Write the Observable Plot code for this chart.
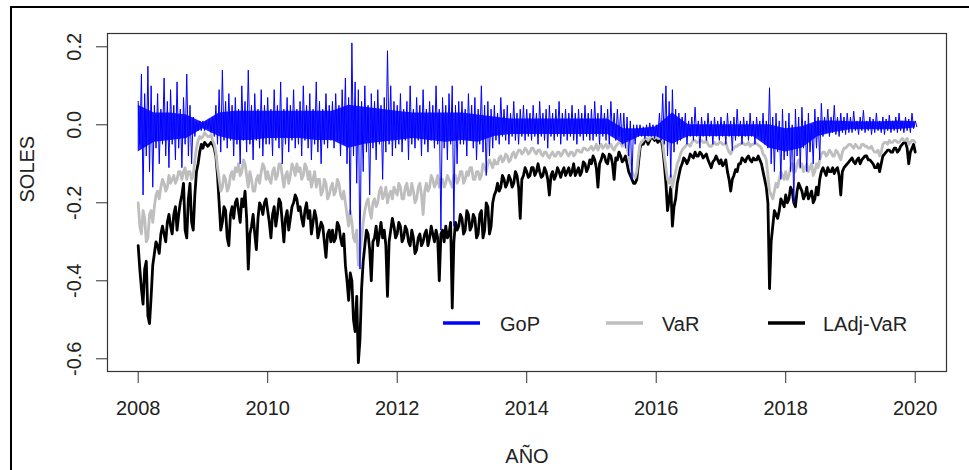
<!DOCTYPE html>
<html><head><meta charset="utf-8">
<script src="https://cdn.jsdelivr.net/npm/d3@7"></script>
<script src="https://cdn.jsdelivr.net/npm/@observablehq/plot@0.6"></script>
<style>
html,body{margin:0;padding:0;background:#fff;}
#chart{position:relative;width:969px;height:470px;overflow:hidden;}
</style></head><body><div id="chart"></div>
<script>
// time grid: first observation and spacing (years)
const start = 2008, step = 0.05;

// LAdj-VaR (black): readings at start + i*step (one row per year)
const ladjVaR = [
 -0.31,-0.42,-0.37,-0.49,-0.44,-0.33,-0.31,-0.28,-0.28,-0.25,-0.26,-0.23,-0.27,-0.20,-0.15,-0.29,-0.15,-0.27,-0.12,-0.07,
 -0.06,-0.05,-0.05,-0.05,-0.08,-0.20,-0.25,-0.22,-0.31,-0.21,-0.20,-0.22,-0.19,-0.17,-0.37,-0.26,-0.28,-0.24,-0.21,-0.20,
 -0.22,-0.29,-0.21,-0.23,-0.20,-0.30,-0.22,-0.24,-0.20,-0.19,-0.21,-0.26,-0.20,-0.22,-0.25,-0.24,-0.27,-0.26,-0.34,-0.27,
 -0.27,-0.29,-0.26,-0.31,-0.36,-0.45,-0.40,-0.53,-0.61,-0.42,-0.31,-0.28,-0.40,-0.29,-0.31,-0.25,-0.27,-0.44,-0.27,-0.26,
 -0.28,-0.26,-0.29,-0.27,-0.31,-0.29,-0.32,-0.28,-0.30,-0.27,-0.29,-0.28,-0.27,-0.40,-0.27,-0.26,-0.28,-0.47,-0.25,-0.26,
 -0.24,-0.27,-0.23,-0.26,-0.24,-0.28,-0.22,-0.27,-0.21,-0.26,-0.18,-0.15,-0.16,-0.14,-0.15,-0.14,-0.15,-0.13,-0.24,-0.13,
 -0.12,-0.13,-0.11,-0.12,-0.12,-0.13,-0.12,-0.18,-0.12,-0.13,-0.12,-0.12,-0.13,-0.11,-0.12,-0.13,-0.11,-0.12,-0.10,-0.11,
 -0.10,-0.09,-0.16,-0.09,-0.08,-0.10,-0.08,-0.14,-0.09,-0.08,-0.09,-0.10,-0.13,-0.15,-0.14,-0.06,-0.05,-0.04,-0.04,-0.035,
 -0.035,-0.04,-0.06,-0.15,-0.19,-0.26,-0.19,-0.13,-0.10,-0.09,-0.09,-0.08,-0.07,-0.08,-0.075,-0.08,-0.09,-0.11,-0.09,-0.09,
 -0.09,-0.10,-0.12,-0.17,-0.13,-0.12,-0.10,-0.09,-0.085,-0.09,-0.085,-0.09,-0.09,-0.12,-0.16,-0.42,-0.26,-0.23,-0.22,-0.20,
 -0.18,-0.19,-0.17,-0.21,-0.15,-0.17,-0.18,-0.19,-0.17,-0.19,-0.18,-0.12,-0.12,-0.11,-0.12,-0.125,-0.11,-0.18,-0.11,-0.10,
 -0.09,-0.095,-0.09,-0.10,-0.085,-0.08,-0.09,-0.10,-0.11,-0.12,-0.08,-0.07,-0.065,-0.07,-0.06,-0.065,-0.05,-0.045,-0.10,-0.06,
 -0.07
];
// LAdj-VaR readings half a step later (start + i*step + step/2)
const ladjVaRMid = [
 -0.37,-0.46,-0.35,-0.51,-0.36,-0.30,-0.33,-0.26,-0.30,-0.23,-0.28,-0.21,-0.23,-0.18,-0.27,-0.19,-0.25,-0.18,-0.10,-0.05,
 -0.045,-0.055,-0.045,-0.06,-0.13,-0.27,-0.21,-0.29,-0.23,-0.24,-0.19,-0.25,-0.21,-0.24,-0.28,-0.23,-0.32,-0.20,-0.23,-0.19,
 -0.25,-0.23,-0.26,-0.19,-0.25,-0.24,-0.27,-0.21,-0.18,-0.22,-0.24,-0.22,-0.24,-0.28,-0.22,-0.29,-0.25,-0.30,-0.28,-0.30,
 -0.30,-0.25,-0.29,-0.28,-0.40,-0.38,-0.50,-0.44,-0.55,-0.35,-0.27,-0.32,-0.30,-0.26,-0.28,-0.29,-0.31,-0.30,-0.24,-0.29,
 -0.25,-0.30,-0.26,-0.30,-0.27,-0.33,-0.29,-0.31,-0.28,-0.31,-0.26,-0.30,-0.29,-0.28,-0.30,-0.29,-0.25,-0.30,-0.27,-0.23,
 -0.28,-0.22,-0.27,-0.23,-0.29,-0.23,-0.29,-0.20,-0.28,-0.20,-0.17,-0.17,-0.13,-0.16,-0.13,-0.16,-0.12,-0.16,-0.14,-0.11,
 -0.135,-0.11,-0.13,-0.10,-0.135,-0.11,-0.14,-0.13,-0.14,-0.11,-0.135,-0.11,-0.12,-0.13,-0.10,-0.12,-0.13,-0.095,-0.12,-0.09,
 -0.08,-0.11,-0.10,-0.075,-0.095,-0.075,-0.10,-0.085,-0.07,-0.095,-0.08,-0.12,-0.14,-0.15,-0.10,-0.045,-0.04,-0.05,-0.03,-0.04,
 -0.045,-0.035,-0.10,-0.22,-0.16,-0.21,-0.15,-0.11,-0.085,-0.10,-0.075,-0.085,-0.08,-0.07,-0.085,-0.075,-0.10,-0.095,-0.08,-0.10,
 -0.105,-0.09,-0.14,-0.14,-0.115,-0.10,-0.085,-0.095,-0.08,-0.095,-0.09,-0.08,-0.10,-0.14,-0.20,-0.30,-0.22,-0.24,-0.19,-0.21,
 -0.20,-0.16,-0.20,-0.17,-0.16,-0.19,-0.16,-0.18,-0.20,-0.16,-0.14,-0.11,-0.13,-0.12,-0.11,-0.115,-0.13,-0.12,-0.105,-0.095,
 -0.085,-0.10,-0.085,-0.09,-0.08,-0.09,-0.095,-0.11,-0.10,-0.10,-0.075,-0.065,-0.07,-0.06,-0.07,-0.055,-0.045,-0.06,-0.07,-0.05
];

// VaR (gray)
const VaR = [
 -0.20,-0.28,-0.24,-0.29,-0.22,-0.21,-0.17,-0.16,-0.15,-0.16,-0.15,-0.13,-0.14,-0.12,-0.12,-0.14,-0.12,-0.13,-0.06,-0.03,
 -0.03,-0.025,-0.03,-0.04,-0.07,-0.14,-0.16,-0.14,-0.16,-0.12,-0.11,-0.10,-0.12,-0.10,-0.16,-0.14,-0.17,-0.13,-0.12,-0.11,
 -0.12,-0.15,-0.11,-0.13,-0.10,-0.16,-0.12,-0.13,-0.11,-0.10,-0.11,-0.13,-0.11,-0.12,-0.14,-0.16,-0.14,-0.17,-0.15,-0.18,
 -0.15,-0.17,-0.15,-0.19,-0.20,-0.26,-0.25,-0.30,-0.36,-0.29,-0.22,-0.19,-0.24,-0.19,-0.20,-0.16,-0.18,-0.20,-0.17,-0.16,
 -0.18,-0.16,-0.19,-0.15,-0.18,-0.17,-0.19,-0.15,-0.23,-0.15,-0.16,-0.14,-0.15,-0.16,-0.14,-0.15,-0.14,-0.16,-0.13,-0.14,
 -0.12,-0.14,-0.13,-0.11,-0.14,-0.12,-0.13,-0.11,-0.10,-0.10,-0.09,-0.10,-0.08,-0.09,-0.08,-0.09,-0.07,-0.075,-0.065,-0.07,
 -0.065,-0.07,-0.06,-0.075,-0.065,-0.08,-0.07,-0.085,-0.07,-0.08,-0.07,-0.075,-0.065,-0.08,-0.07,-0.075,-0.065,-0.07,-0.06,-0.065,
 -0.055,-0.06,-0.065,-0.05,-0.055,-0.06,-0.05,-0.065,-0.05,-0.045,-0.05,-0.06,-0.10,-0.13,-0.12,-0.05,-0.04,-0.035,-0.035,-0.03,
 -0.03,-0.035,-0.045,-0.11,-0.15,-0.16,-0.12,-0.09,-0.065,-0.055,-0.05,-0.045,-0.04,-0.045,-0.04,-0.045,-0.05,-0.055,-0.045,-0.05,
 -0.045,-0.05,-0.06,-0.075,-0.06,-0.055,-0.05,-0.048,-0.05,-0.055,-0.05,-0.048,-0.055,-0.075,-0.09,-0.17,-0.19,-0.15,-0.14,-0.13,
 -0.12,-0.13,-0.10,-0.12,-0.09,-0.10,-0.11,-0.12,-0.10,-0.12,-0.11,-0.075,-0.07,-0.075,-0.07,-0.08,-0.07,-0.09,-0.06,-0.055,
 -0.05,-0.06,-0.055,-0.06,-0.05,-0.055,-0.06,-0.065,-0.07,-0.08,-0.05,-0.045,-0.04,-0.045,-0.04,-0.045,-0.035,-0.04,-0.05,-0.04,
 -0.045
];
const VaRMid = [
 -0.26,-0.22,-0.30,-0.23,-0.25,-0.18,-0.19,-0.14,-0.17,-0.13,-0.14,-0.15,-0.12,-0.14,-0.11,-0.12,-0.14,-0.09,-0.04,-0.035,
 -0.02,-0.03,-0.025,-0.05,-0.11,-0.17,-0.13,-0.17,-0.13,-0.14,-0.12,-0.13,-0.09,-0.13,-0.12,-0.17,-0.14,-0.15,-0.10,-0.14,
 -0.14,-0.12,-0.14,-0.10,-0.13,-0.13,-0.15,-0.10,-0.13,-0.12,-0.14,-0.10,-0.14,-0.16,-0.12,-0.14,-0.18,-0.14,-0.19,-0.16,
 -0.18,-0.14,-0.18,-0.17,-0.23,-0.22,-0.29,-0.27,-0.33,-0.25,-0.20,-0.22,-0.20,-0.21,-0.17,-0.19,-0.16,-0.18,-0.19,-0.17,
 -0.15,-0.19,-0.16,-0.18,-0.15,-0.20,-0.16,-0.18,-0.17,-0.17,-0.13,-0.16,-0.13,-0.14,-0.16,-0.13,-0.15,-0.13,-0.15,-0.12,
 -0.15,-0.12,-0.11,-0.14,-0.12,-0.14,-0.10,-0.12,-0.09,-0.11,-0.10,-0.085,-0.095,-0.075,-0.095,-0.075,-0.085,-0.065,-0.075,-0.06,
 -0.075,-0.06,-0.07,-0.065,-0.075,-0.07,-0.08,-0.075,-0.08,-0.07,-0.08,-0.065,-0.075,-0.07,-0.08,-0.065,-0.07,-0.06,-0.065,-0.06,
 -0.065,-0.05,-0.055,-0.06,-0.05,-0.055,-0.06,-0.055,-0.045,-0.055,-0.05,-0.08,-0.12,-0.135,-0.08,-0.045,-0.035,-0.04,-0.03,-0.035,
 -0.035,-0.03,-0.08,-0.14,-0.13,-0.14,-0.10,-0.075,-0.06,-0.05,-0.055,-0.04,-0.045,-0.04,-0.045,-0.04,-0.055,-0.05,-0.05,-0.045,
 -0.05,-0.045,-0.07,-0.065,-0.055,-0.05,-0.045,-0.052,-0.045,-0.05,-0.045,-0.052,-0.06,-0.08,-0.13,-0.18,-0.17,-0.16,-0.12,-0.14,
 -0.14,-0.11,-0.12,-0.10,-0.11,-0.12,-0.10,-0.11,-0.13,-0.10,-0.09,-0.07,-0.08,-0.065,-0.08,-0.065,-0.08,-0.07,-0.06,-0.05,
 -0.055,-0.05,-0.06,-0.05,-0.055,-0.06,-0.055,-0.07,-0.065,-0.07,-0.045,-0.05,-0.045,-0.04,-0.045,-0.04,-0.04,-0.035,-0.045,-0.04
];

// GoP (blue): upper and lower daily swings read per interval
const gopHi = [
 0.06,0.13,0.08,0.15,0.10,0.05,0.08,0.04,0.12,0.06,0.09,0.05,0.11,0.04,0.07,0.13,0.05,0.02,0.01,0.01,
 0.01,0.01,0.015,0.02,0.05,0.09,0.14,0.06,0.08,0.05,0.07,0.04,0.10,0.06,0.14,0.05,0.08,0.04,0.09,0.05,
 0.07,0.04,0.09,0.05,0.11,0.04,0.07,0.05,0.09,0.04,0.06,0.10,0.05,0.08,0.04,0.11,0.06,0.04,0.08,0.05,
 0.06,0.08,0.05,0.09,0.12,0.07,0.21,0.11,0.09,0.06,0.10,0.05,0.08,0.06,0.09,0.05,0.07,0.19,0.10,0.06,
 0.05,0.08,0.04,0.06,0.10,0.04,0.07,0.05,0.09,0.04,0.06,0.05,0.10,0.04,0.07,0.05,0.08,0.10,0.05,0.06,
 0.06,0.04,0.08,0.05,0.07,0.04,0.10,0.05,0.06,0.04,0.05,0.03,0.07,0.04,0.05,0.03,0.06,0.03,0.04,0.05,
 0.04,0.03,0.05,0.03,0.06,0.03,0.04,0.05,0.03,0.04,0.06,0.03,0.04,0.03,0.05,0.03,0.04,0.03,0.05,0.03,
 0.04,0.06,0.03,0.05,0.03,0.04,0.06,0.03,0.04,0.03,0.03,0.02,0.01,0.0,0.0,0.0,-0.005,0.0,0.005,0.0,
 0.0,0.03,0.08,0.10,0.06,0.09,0.04,0.03,0.02,0.03,0.01,0.02,0.045,0.01,0.02,0.01,0.03,0.01,0.02,0.01,
 0.02,0.01,0.03,0.01,0.02,0.04,0.01,0.02,0.01,0.03,0.01,0.02,0.01,0.03,0.01,0.095,0.02,0.03,0.01,0.04,
 0.01,0.03,0.0,0.04,0.02,0.045,0.01,0.03,0.0,0.04,0.02,0.055,0.02,0.04,0.02,0.05,0.02,0.03,0.02,0.03,
 0.02,0.035,0.01,0.02,0.037,0.01,0.02,0.015,0.03,0.01,0.02,0.015,0.025,0.01,0.02,0.03,0.01,0.02,0.015,0.03,
 0.01
];
const gopLo = [
 -0.05,-0.18,-0.08,-0.12,-0.16,-0.06,-0.10,-0.05,-0.08,-0.11,-0.05,-0.09,-0.06,-0.11,-0.05,-0.08,-0.10,-0.03,-0.015,-0.015,
 -0.015,-0.01,-0.02,-0.03,-0.05,-0.07,-0.04,-0.06,-0.04,-0.08,-0.05,-0.10,-0.04,-0.07,-0.05,-0.09,-0.04,-0.06,-0.08,-0.05,
 -0.05,-0.08,-0.04,-0.06,-0.10,-0.05,-0.07,-0.04,-0.06,-0.05,-0.08,-0.04,-0.06,-0.09,-0.05,-0.07,-0.10,-0.05,-0.06,-0.04,
 -0.06,-0.04,-0.08,-0.05,-0.10,-0.23,-0.08,-0.15,-0.37,-0.12,-0.07,-0.18,-0.06,-0.09,-0.05,-0.14,-0.07,-0.05,-0.08,-0.06,
 -0.05,-0.07,-0.04,-0.09,-0.05,-0.06,-0.04,-0.08,-0.05,-0.07,-0.04,-0.06,-0.05,-0.27,-0.06,-0.09,-0.05,-0.26,-0.10,-0.05,
 -0.05,-0.08,-0.04,-0.06,-0.09,-0.05,-0.07,-0.13,-0.08,-0.06,-0.04,-0.05,-0.03,-0.04,-0.05,-0.03,-0.04,-0.05,-0.03,-0.04,
 -0.03,-0.04,-0.03,-0.05,-0.03,-0.04,-0.06,-0.03,-0.04,-0.03,-0.05,-0.03,-0.04,-0.03,-0.04,-0.05,-0.03,-0.04,-0.03,-0.04,
 -0.04,-0.03,-0.05,-0.03,-0.04,-0.05,-0.03,-0.04,-0.03,-0.05,-0.06,-0.08,-0.14,-0.05,-0.03,-0.03,-0.035,-0.03,-0.03,-0.035,
 -0.03,-0.04,-0.05,-0.08,-0.135,-0.07,-0.05,-0.04,-0.03,-0.05,-0.03,-0.04,-0.03,-0.06,-0.03,-0.04,-0.03,-0.05,-0.03,-0.04,
 -0.03,-0.05,-0.03,-0.066,-0.04,-0.03,-0.05,-0.03,-0.04,-0.03,-0.05,-0.03,-0.04,-0.05,-0.06,-0.10,-0.12,-0.07,-0.14,-0.09,
 -0.08,-0.12,-0.20,-0.08,-0.11,-0.06,-0.12,-0.07,-0.10,-0.06,-0.09,-0.03,-0.02,-0.03,-0.02,-0.025,-0.03,-0.02,-0.025,-0.02,
 -0.02,-0.015,-0.025,-0.015,-0.02,-0.015,-0.025,-0.02,-0.015,-0.02,-0.025,-0.015,-0.02,-0.015,-0.02,-0.015,-0.02,-0.015,-0.02,-0.01,
 -0.005
];
// GoP dense core band (where daily values pile up), every quarter year
const coreStep = 0.25;
const gopCoreHi = [
 0.05,0.03,0.03,0.025, 0.005,0.03,0.035,0.035, 0.035,0.035,0.035,0.035, 0.035,0.05,0.045,0.04,
 0.035,0.03,0.03,0.03, 0.03,0.025,0.02,0.015, 0.015,0.015,0.015,0.015, 0.015,0.015,-0.01,-0.01,
 -0.005,0.03,0.0,0.0, 0.0,0.0,0.0,0.0, -0.01,-0.005,0.01,0.01, 0.008,0.008,0.008,0.01, 0.008
];
const gopCoreLo = [
 -0.07,-0.045,-0.04,-0.035, -0.01,-0.03,-0.04,-0.04, -0.035,-0.035,-0.035,-0.04, -0.04,-0.06,-0.05,-0.045,
 -0.04,-0.035,-0.04,-0.045, -0.04,-0.045,-0.03,-0.025, -0.025,-0.025,-0.025,-0.025, -0.025,-0.025,-0.05,-0.03,
 -0.03,-0.05,-0.03,-0.03, -0.03,-0.03,-0.03,-0.06, -0.07,-0.06,-0.03,-0.02, -0.013,-0.013,-0.013,-0.012, -0.008
];

const xTicks = [2008, 2010, 2012, 2014, 2016, 2018, 2020];
const yTicks = [-0.6, -0.4, -0.2, 0.0, 0.2];
const seriesNames = ["GoP", "VaR", "LAdj-VaR"];
const seriesColors = ["#0000ff", "#bebebe", "#000000"];
const xLabel = "AÑO", yLabel = "SOLES";

const tAt = i => start + i * step;
const pairUp = (a, b) => a.flatMap((v, i) => i < b.length ? [{t: tAt(i), v}, {t: tAt(i) + step / 2, v: b[i]}] : [{t: tAt(i), v}]);
const ladjData = pairUp(ladjVaR, ladjVaRMid);
const varData = pairUp(VaR, VaRMid);
const gopData = pairUp(gopHi, gopLo);
const coreData = gopCoreHi.map((h, i) => ({t: start + i * coreStep, hi: h, lo: gopCoreLo[i]}));

const font = "'Liberation Sans', Arial, Helvetica, sans-serif";
const ink = "#222";

const plot = Plot.plot({
  width: 969, height: 470,
  marginLeft: 107, marginRight: 23, marginTop: 33, marginBottom: 99,
  style: {fontFamily: font, fontSize: "20px", color: ink, background: "transparent", overflow: "visible"},
  x: {domain: [2007.526, 2020.483]},
  y: {domain: [-0.6326, 0.2341]},
  marks: [
    Plot.line(ladjData, {x: "t", y: "v", stroke: seriesColors[2], strokeWidth: 2.8}),
    Plot.line(varData, {x: "t", y: "v", stroke: seriesColors[1], strokeWidth: 2.8}),
    Plot.areaY(coreData, {x: "t", y1: "lo", y2: "hi", fill: seriesColors[0], fillOpacity: 0.88}),
    Plot.line(gopData, {x: "t", y: "v", stroke: seriesColors[0], strokeWidth: 1}),
    Plot.frame({stroke: "#333", strokeWidth: 1.2}),
    Plot.axisX({ticks: xTicks, tickSize: 12, tickPadding: 17, tickFormat: d => String(d), label: null, stroke: "#333", fontSize: 20}),
    Plot.axisY({ticks: yTicks, tickSize: 11, tickPadding: 16, tickRotate: -90, tickFormat: d => d.toFixed(1), label: null, stroke: "#333", fontSize: 20}),
    Plot.text([xLabel], {text: d => d, frameAnchor: "bottom", dy: 91, lineAnchor: "bottom", fontSize: 20}),
    Plot.text([yLabel], {text: d => d, frameAnchor: "left", dx: -74, rotate: -90, lineAnchor: "bottom", fontSize: 20})
  ]
});

document.getElementById("chart").appendChild(plot);

// legend (inside plot, horizontal, no box) + outer screenshot border
const svg = d3.select(plot);
const legendY = 323;
const legendLineX = [443, 606, 768];
const legendTextX = [500, 662, 823];
const lg = svg.append("g").attr("text-anchor", "start");
seriesNames.forEach((name, k) => {
  lg.append("line").attr("x1", legendLineX[k]).attr("x2", legendLineX[k] + 37)
    .attr("y1", legendY).attr("y2", legendY)
    .attr("stroke", seriesColors[k]).attr("stroke-width", 3.5);
  lg.append("text").attr("x", legendTextX[k]).attr("y", legendY + 8)
    .attr("text-anchor", "start")
    .attr("fill", ink).attr("font-size", 20).attr("font-family", font).text(name);
});
svg.append("path").attr("d", "M11,470V7H969").attr("fill", "none").attr("stroke", "#000").attr("stroke-width", 2);
</script></body></html>
